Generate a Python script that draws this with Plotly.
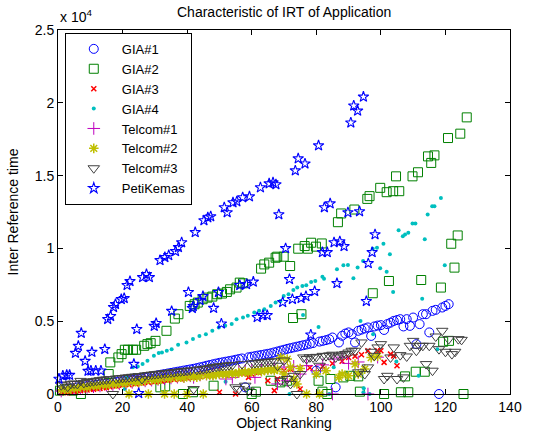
import plotly.graph_objects as go

# ---- Inter reference time per object rank, one pair of lists per workload ----
gia1_rank = list(range(1, 122))
gia1_irt = [300, 330, 360, 390, 420, 450, 480, 510, 545, 580, 610, 640, 670, 700, 730, 760, 790, 820, 850, 880,
            910, 945, 980, 1010, 1040, 1080, 1120, 1160, 1200, 1250, 1290, 1330, 1370, 1410, 1450, 1490, 1530, 1570, 1610, 1650,
            1690, 1730, 1780, 1830, 1880, 1940, 1990, 2040, 2090, 2140, 2180, 2220, 2260, 2300, 2350, 2400, 2440, 460, 2520, 2560,
            2600, 2640, 2680, 2720, 2760, 2800, 2860, 2920, 2980, 3040, 3100, 3150, 3200, 3250, 3300, 3350, 3400, 3450, 3500, 1600,
            3600, 3650, 3700, 3760, 3880, 460, 3540, 4000, 4150, 4230, 4110, 3540, 4340, 4420, 4500, 4570, 3990, 4640, 4700, 4730,
            4400, 4800, 4900, 5020, 5080, 5140, 4640, 5140, 4680, 5250, 3425, 4800, 5480, 5480, 4230, 5710, 5780, 0, 5940, 6050,
            6170]

gia2_rank = [0.6, 2.6, 4.6, 7.1, 15.7, 16.2, 18.7, 19.7, 20.7, 21.7, 23.2, 24.2, 26.7, 27.7, 28.7, 30.2, 31.7, 33.2, 33.6,
             36.2, 37.3, 38.7, 40.8, 41.8, 42.3, 43.3, 44.8, 46.3, 47.8, 48.2, 49.3, 50.8, 52.3, 53.3, 55.3, 56.3, 57.3, 60.0,
             61.3, 62.9, 63.9, 65.4, 65.9, 67.4, 67.9, 68.9, 69.9, 70.9, 71.9, 72.8, 74.4, 75.4, 76.4, 77.4, 78.4, 79.9, 80.7,
             81.7, 81.9, 83.4, 84.4, 86.7, 87.7, 88.4, 90.5, 91.8, 93.0, 93.5, 95.8, 96.5, 97.5, 99.8, 101.0, 101.8, 102.5,
             103.8, 104.7, 105.7, 106.2, 107.5, 108.5, 109.8, 110.8, 111.5, 112.5, 113.6, 114.6, 115.6, 116.6, 118.6, 119.3,
             120.8, 121.1, 121.8, 122.8, 123.8, 124.6, 125.6, 126.6]
gia2_irt = [230, 340, 230, 0, 1370, 2170, 2510, 2740, 3040, 3040, 3040, 3040, 3310, 3425, 3490, 3650, 460, 530, 4340,
            5180, 5480, 0, 6050, 120, 6165, 6280, 6510, 6620, 6690, 570, 6850, 6900, 7010, 7190, 7310, 7650, 7600, 0,
            160, 8610, 8900, 9020, 910, 9360, 9430, 800, 9430, 910, 8790, 5220, 9980, 5480, 10160, 9980, 10390, 10120, 910,
            10340, 160, 0, 1030, 11800, 12400, 1140, 1250, 12670, 1210, 160, 13400, 13590, 6920, 14160, 0, 13860, 7760,
            13930, 14950, 13930, 120, 1210, 120, 14950, 1530, 15230, 7830, 1530, 16320, 15870, 16390, 7310, 3590,
            17580, 3650, 10320, 8680, 10890, 17880, 0, 19000]

gia3_rank = [1, 2, 3, 4, 5, 6, 7, 8, 9, 10, 11, 12, 13, 14, 15, 16, 18, 20, 22, 24, 26, 28, 30, 32, 34, 36, 38, 40, 42,
             44, 46, 48, 50, 52, 55, 57, 59, 60, 62, 65, 67, 68, 70, 72, 75, 78, 82, 85, 88, 90, 92, 94, 96, 99, 100,
             101, 103, 104, 105]
gia3_irt = [100, 150, 80, 200, 180, 250, 220, 300, 280, 350, 320, 400, 380, 450, 430, 500, 550, 600, 640, 700, 750, 800,
            850, 900, 950, 1000, 1050, 1100, 1150, 1200, 1250, 1300, 120, 1380, 0, 1450, 1140, 1370, 1500, 910, 230, 1030,
            1600, 1700, 340, 1800, 1900, 2100, 2250, 2510, 2600, 2700, 2970, 2970, 2970, 2170, 2740, 2620, 1940]

gia4_rank = [20.7, 21.2, 23.2, 24.7, 26.2, 27.7, 29.7, 31.2, 32.2, 33.7, 35.2, 37.2, 39.8, 41.8, 43.8, 45.8, 47.8, 49.8,
             51.8, 51.9, 53.8, 55.3, 57.3, 58.8, 60.8, 62.3, 63.9, 65.9, 67.4, 68.9, 69.9, 71.4, 71.7, 72.9, 74.1, 75.7,
             75.9, 76.9, 78.4, 79.7, 80.7, 81.9, 82.4, 84.0, 85.4, 86.4, 88.4, 89.8, 91.5, 92.8, 93.7, 94.5, 94.6, 94.7,
             96.5, 97.5, 97.6, 98.8, 99.8, 100.8, 101.8, 102.8, 103.8, 104.8, 105.5, 106.8, 107.5, 108.5, 109.8, 110.7,
             111.7, 112.8, 113.6, 114.5, 115.9, 116.6, 117.5, 118.6, 119.8]
gia4_irt = [340, 1140, 1830, 1890, 2055, 2280, 2630, 2810, 2850, 2970, 3080, 3380, 3540, 3770, 3990, 4110, 4340, 4570,
            4680, 840, 4800, 5140, 5250, 5370, 5600, 5710, 5820, 6050, 6280, 6390, 6730, 6850, 0, 7140, 7310, 7420,
            5430, 7470, 7690, 7760, 4610, 8060, 7920, 0, 1830, 8560, 8840, 8860, 7950, 8680, 5020, 9130, 120, 390,
            0, 9980, 4110, 10050, 8630, 10320, 8400, 9590, 7010, 2230, 11250, 10840, 10960, 11070, 11710, 11710,
            1250, 6550, 10620, 12330, 12900, 12900, 3080, 13470, 8840]

tel1_rank = [1, 3, 5, 7, 9, 11, 13, 15, 17, 19, 21, 23, 25, 27, 29, 31, 33, 35, 37, 39, 41, 42, 44, 46, 48, 50, 52, 54,
             56, 58, 60, 61, 63, 65, 67, 68, 70, 71, 73, 75, 77, 80, 82, 85, 85.5, 88, 90, 93, 96, 99]
tel1_irt = [200, 300, 350, 400, 450, 500, 550, 600, 650, 700, 750, 800, 850, 900, 950, 1000, 1050, 1100, 1150, 1200,
            1250, 1140, 1300, 1370, 1400, 1450, 1030, 1140, 1550, 1600, 1650, 1140, 1700, 1750, 1800, 690, 1850, 910,
            1900, 1370, 1950, 1600, 2000, 0, 2400, 2530, 2100, 2200, 0, 2530]

tel2_rank = [1, 2, 3, 4, 5, 6, 7, 8, 9, 10, 11, 12, 13, 14, 15, 16, 17, 18, 19, 20, 21, 22, 23, 24, 25, 26, 27, 28, 29,
             30, 31, 32, 33, 34, 35, 36, 37, 38, 39, 40, 41, 42, 43, 44, 45, 46, 47, 48, 49, 50, 51, 52, 53, 54, 55, 56,
             57, 58, 59, 60, 61, 62, 63, 64, 65, 66, 67, 68, 69, 70, 71, 72, 73, 74, 75, 77, 80, 81, 83, 87, 88, 90, 92,
             93, 95, 97, 99]
tel2_irt = [300, 350, 250, 400, 420, 380, 480, 520, 450, 570, 600, 530, 640, 660, 600, 700, 720, 680, 760, 780, 740, 0,
            830, 850, 800, 900, 920, 0, 960, 1000, 950, 1040, 0, 1080, 1100, 0, 1130, 1150, 1100, 0, 1190, 1210, 1160,
            1240, 0, 1280, 1300, 1250, 1340, 1370, 1390, 1330, 1420, 1440, 1380, 1470, 1500, 1520, 1460, 1550, 1570,
            1600, 1540, 1620, 1650, 1680, 1610, 1700, 2510, 1370, 2400, 1830, 1030, 690, 1750, 0, 1370, 0, 1600, 1140,
            1370, 1250, 2055, 1370, 1710, 2500, 2600]

tel3_rank = list(range(1, 126))
tel3_irt = [600, 650, 500, 700, 720, 690, 900, 760, 820, 850, 880, 910, 950, 980, 1000, 1020, 0, 1060, 1080, 1100,
            1130, 1150, 1180, 1200, 1230, 1030, 1280, 1300, 1330, 1360, 1380, 1400, 1430, 1450, 1480, 1500, 1530, 1550,
            1580, 1600, 1620, 340, 1660, 1690, 1720, 1750, 1780, 1850, 1870, 1900, 1920, 1950, 1970, 2000, 460, 340,
            2050, 570, 230, 2100, 2120, 2150, 2170, 2190, 2210, 2230, 2250, 1940, 910, 2300, 1030, 690, 1250, 0, 1370,
            2510, 2400, 2520, 2510, 2550, 1940, 2620, 2600, 2650, 2700, 2510, 2620, 2700, 2750, 2850, 2970, 2970, 1490,
            3540, 1370, 1830, 2900, 2620, 3200, 3425, 1030, 1250, 2510, 3200, 1030, 2670, 1140, 2580, 3310, 3650, 2970,
            3310, 3310, 2055, 3310, 1600, 3950, 3080, 4340, 2900, 3770, 2740, 2900, 3770, 3720]

peti_rank = [0.3, 1.5, 2.7, 3.6, 5.4, 6.3, 7.2, 8.4, 9.3, 10.2, 10.5, 11.7, 13.3, 14.5, 15.4, 16.3, 17.2, 17.8, 19.6,
             20.5, 21.4, 22.3, 23.5, 24.4, 25.0, 26.2, 27.4, 28.3, 29.8, 30.4, 31.6, 33.1, 34.3, 35.2, 36.4, 37.3, 38.3,
             40.4, 41.6, 41.9, 42.5, 44.0, 44.9, 45.2, 46.4, 47.3, 48.2, 49.7, 50.6, 51.5, 52.4, 54.2, 55.4, 56.3, 57.2,
             58.4, 59.3, 60.5, 61.7, 62.7, 63.5, 64.8, 65.4, 66.6, 67.5, 68.4, 69.6, 70.5, 71.7, 72.6, 73.5, 74.4, 75.3,
             76.5, 76.8, 78.3, 79.5, 80.7, 81.9, 82.5, 83.4, 84.3, 85.5, 86.4, 87.3, 88.6, 89.8, 90.7, 91.6, 92.8, 93.4,
             94.6, 95.5, 96.1, 97.3, 98.2]
peti_irt = [1030, 1250, 1300, 1300, 2810, 3290, 4180, 2260, 1575, 1600, 2880, 1600, 1600, 3080, 5140, 5340, 5960, 6165,
            6500, 6575, 7470, 7740, 2055, 4450, 50, 8010, 8220, 8010, 4660, 4860, 9180, 9385, 9520, 5690, 9800, 10070,
            10410, 6990, 5890, 6030, 11100, 6440, 6710, 11920, 12120, 12190, 5900, 6990, 4830, 12810, 12470, 13150,
            13220, 7470, 13500, 7530, 13560, 7700, 5270, 14180, 5410, 5410, 14450, 14520, 14390, 12330, 6300, 10000,
            7880, 6510, 15340, 16170, 6575, 15820, 6710, 4070, 7060, 17060, 9730, 12810, 9730, 13080, 10410, 7600,
            10480, 10140, 12470, 18630, 19800, 19450, 12540, 20410, 6370, 8970, 9730, 10960]

x_ticks = [0, 20, 40, 60, 80, 100, 120, 140]
y_ticks = [0, 5000, 10000, 15000, 20000, 25000]
y_tick_text = ["0", "0.5", "1", "1.5", "2", "2.5"]

series = [
    ("GIA#1", gia1_rank, gia1_irt, "circle-open", "#0000FF", 9, 1),
    ("GIA#2", gia2_rank, gia2_irt, "square-open", "#008000", 9, 1),
    ("GIA#3", gia3_rank, gia3_irt, "x-thin-open", "#FF0000", 5, 1.5),
    ("GIA#4", gia4_rank, gia4_irt, "circle", "#00BFBF", 4, 0),
    ("Telcom#1", tel1_rank, tel1_irt, "cross-thin-open", "#BF00BF", 9, 1),
    ("Telcom#2", tel2_rank, tel2_irt, "asterisk-open", "#BFBF00", 8, 1.5),
    ("Telcom#3", tel3_rank, tel3_irt, "triangle-down-open", "#404040", 10, 1),
    ("PetiKemas", peti_rank, peti_irt, "star-open", "#0000FF", 8, 1.1),
]

fig = go.Figure()
for name, xs, ys, sym, col, size, lw in series:
    fig.add_trace(go.Scatter(
        x=xs, y=ys, mode="markers", name=name, cliponaxis=False,
        marker=dict(symbol=sym, color=col, size=size, line=dict(width=lw, color=col)),
    ))

font = "Liberation Sans, Arial, sans-serif"
fs = 14
axis_common = dict(
    showline=True, linecolor="black", linewidth=1, mirror="ticks",
    ticks="inside", ticklen=5, tickcolor="black", showgrid=False, zeroline=False,
    tickfont=dict(family=font, size=fs, color="black"),
)

fig.update_layout(
    width=534, height=439,
    margin=dict(l=58, r=12, t=30, b=43),
    plot_bgcolor="white", paper_bgcolor="white",
    font=dict(family=font, size=fs, color="black"),
    xaxis=dict(range=[0, 140], tickvals=x_ticks,
               title=dict(text="Object Ranking", font=dict(family=font, size=fs), standoff=2),
               **axis_common),
    yaxis=dict(range=[0, 25000], tickvals=y_ticks, ticktext=y_tick_text,
               title=dict(text="Inter Reference time", font=dict(family=font, size=fs), standoff=12),
               **axis_common),
    legend=dict(x=0.015, y=0.992, xanchor="left", yanchor="top",
                bgcolor="white", bordercolor="black", borderwidth=1,
                font=dict(family=font, size=13), itemwidth=46, tracegroupgap=0),
    annotations=[
        dict(text="Characteristic of IRT of Application", xref="paper", yref="paper",
             x=0.5, y=1, xanchor="center", yanchor="bottom", yshift=8, showarrow=False,
             font=dict(family=font, size=fs)),
        dict(text="x 10<sup>4</sup>", xref="paper", yref="paper",
             x=0, y=1, xanchor="left", yanchor="bottom", yshift=3, showarrow=False,
             font=dict(family=font, size=fs)),
    ],
)

fig.write_html("out.html")
